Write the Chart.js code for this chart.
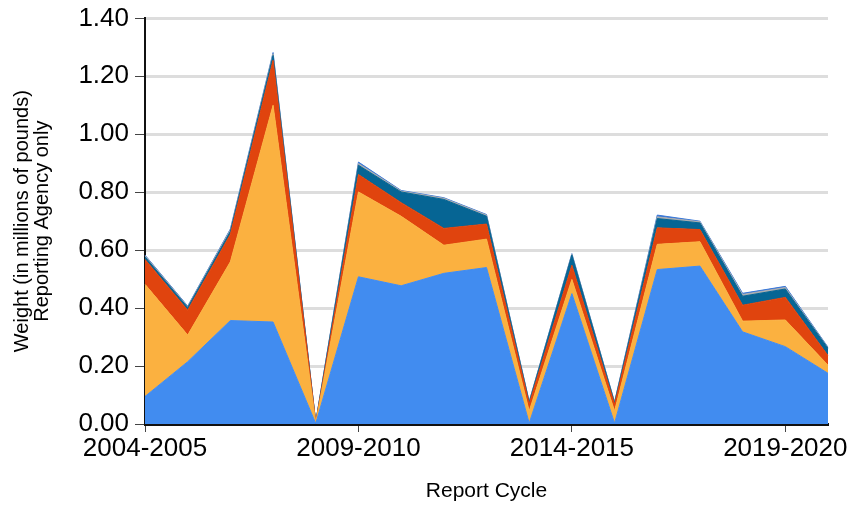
<!DOCTYPE html>
<html>
<head>
<meta charset="utf-8">
<script src="https://cdn.jsdelivr.net/npm/chart.js@4/dist/chart.umd.min.js"></script>
<style>
  html, body { margin: 0; padding: 0; background: #fff; }
  #wrap { width: 850px; height: 508px; }
</style>
</head>
<body>
<div id="wrap"><canvas id="weightChart"></canvas></div>
<script>
// Report cycles on the x axis
const cycles = ['2004-2005', '2005-2006', '2006-2007', '2007-2008', '2008-2009', '2009-2010',
  '2010-2011', '2011-2012', '2012-2013', '2013-2014', '2014-2015', '2015-2016',
  '2016-2017', '2017-2018', '2018-2019', '2019-2020', '2020-2021'];

// Stacked series, bottom to top (millions of pounds)
const seriesBlue   = [0.095, 0.215, 0.357, 0.352, 0.002, 0.508, 0.477, 0.520, 0.540, 0.003, 0.450, 0.003, 0.533, 0.545, 0.318, 0.267, 0.175];
const seriesOrange = [0.387, 0.092, 0.203, 0.748, 0.002, 0.293, 0.240, 0.097, 0.098, 0.042, 0.049, 0.042, 0.087, 0.084, 0.037, 0.092, 0.028];
const seriesRed    = [0.086, 0.086, 0.095, 0.155, 0.001, 0.060, 0.047, 0.058, 0.052, 0.025, 0.049, 0.023, 0.057, 0.042, 0.055, 0.078, 0.033];
const seriesTeal   = [0.009, 0.009, 0.010, 0.017, 0.001, 0.032, 0.037, 0.100, 0.027, 0.005, 0.035, 0.005, 0.032, 0.023, 0.031, 0.029, 0.025];
const seriesGray   = [0.004, 0.003, 0.005, 0.006, 0.001, 0.006, 0.003, 0.004, 0.004, 0.002, 0.003, 0.002, 0.006, 0.004, 0.006, 0.005, 0.002];
const seriesLtBlue = [0.002, 0.002, 0.003, 0.004, 0.000, 0.005, 0.002, 0.002, 0.002, 0.001, 0.002, 0.001, 0.006, 0.002, 0.004, 0.004, 0.002];

const yTicks = [0, 0.2, 0.4, 0.6, 0.8, 1.0, 1.2, 1.4];

function areaSet(data, color, idx) {
    return {
        data: data,
        backgroundColor: color,
        borderColor: color,
        borderWidth: 1,
        fill: idx === 0 ? 'origin' : '-1',
        pointRadius: 0,
        tension: 0
    };
}

const ctx = document.getElementById('weightChart').getContext('2d');
const chart = new Chart(ctx, {
    type: 'line',
    data: {
        labels: cycles,
        datasets: [
            areaSet(seriesBlue, '#418cf0', 0),
            areaSet(seriesOrange, '#fbb140', 1),
            areaSet(seriesRed, '#e0440e', 2),
            areaSet(seriesTeal, '#066594', 3),
            areaSet(seriesGray, '#a9acb0', 4),
            areaSet(seriesLtBlue, '#3a78d8', 5)
        ]
    },
    options: {
        responsive: true,
        maintainAspectRatio: false,
        animation: false,
        layout: { padding: { top: 0, right: 22, left: 12, bottom: 4 } },
        plugins: {
            legend: { display: false },
            tooltip: { enabled: false }
        },
        scales: {
            x: {
                offset: false,
                border: { color: '#111', width: 3 },
                grid: { drawOnChartArea: false, drawTicks: true, tickLength: 8, color: '#444' },
                afterFit: function(scale) { scale.height = 80; },
                ticks: {
                    autoSkip: false,
                    maxRotation: 0,
                    color: '#000',
                    padding: 1,
                    font: { family: 'Liberation Sans, Arial', size: 26 },
                    callback: function(val, index) {
                        return index % 5 === 0 ? cycles[index] : null;
                    }
                },
                title: {
                    display: true,
                    text: 'Report Cycle',
                    color: '#000',
                    padding: { top: 0, bottom: 0 },
                    font: { family: 'Liberation Sans, Arial', size: 21 }
                }
            },
            y: {
                stacked: true,
                min: 0,
                max: 1.4,
                afterBuildTicks: function(scale) {
                    scale.ticks = yTicks.map(v => ({ value: v }));
                },
                afterFit: function(scale) { scale.width = 133; },
                border: { color: '#111', width: 2 },
                grid: { color: '#dddddd', lineWidth: 3, tickLength: 10, tickColor: '#444', tickWidth: 1 },
                ticks: {
                    color: '#000',
                    padding: 6,
                    font: { family: 'Liberation Sans, Arial', size: 26, lineHeight: 0.95 },
                    callback: v => v.toFixed(2)
                },
                title: {
                    display: true,
                    text: ['Weight (in millions of pounds)', 'Reporting Agency only'],
                    color: '#000',
                    padding: { top: 0, bottom: 0 },
                    font: { family: 'Liberation Sans, Arial', size: 20, lineHeight: 1.0 }
                }
            }
        }
    }
});
</script>
</body>
</html>
